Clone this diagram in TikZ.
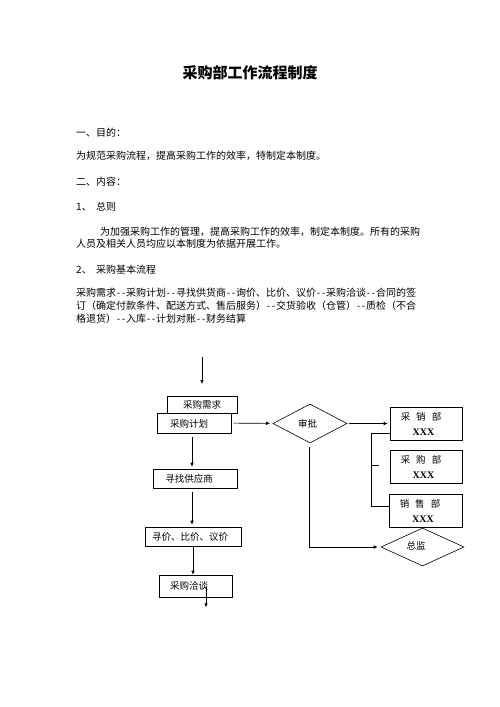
\documentclass[tikz,border=0pt]{standalone}
\usepackage{fontspec}
\setmainfont{Liberation Serif}
\newfontfamily\cjk{Noto Sans CJK SC}
\usetikzlibrary{calc,shapes.geometric,arrows.meta}
\newcommand\dd{\makebox[0.5em]{-}\makebox[0.5em]{-}}
\begin{document}
\begin{tikzpicture}[x=1pt,y=-1pt,
  body/.style={anchor=west,inner sep=0pt,font=\cjk\fontsize{10}{12}\selectfont},
  box/.style={draw,line width=0.6pt,fill=white,inner sep=0pt},
  dia/.style={draw,line width=0.6pt,diamond,aspect=1.9,inner sep=0pt},
  lbl/.style={inner sep=0pt,font=\cjk\fontsize{9.5}{11}\selectfont},
  xxx/.style={inner sep=0pt,font=\fontsize{10}{12}\selectfont\bfseries},
  ln/.style={line width=0.6pt},
  arr/.style={line width=0.6pt,-{Latex[length=4pt,width=3.6pt]}}]
\useasboundingbox (0,0) rectangle (500,707);
% text
\node[inner sep=0pt,font=\cjk\fontsize{15}{18}\selectfont\bfseries] (title) at (250,73) {采购部工作流程制度};
\node[body] (h1) at (76,133) {一、目的：};
\node[body] (p1) at (76,156) {为规范采购流程，提高采购工作的效率，特制定本制度。};
\node[body] (h2) at (76,182) {二、内容：};
\node[body] (n1) at (76,207) {1、};
\node[body] (s1) at (96,207) {总则};
\node[body] (p2a) at (100,232) {为加强采购工作的管理，提高采购工作的效率，制定本制度。所有的采购};
\node[body] (p2b) at (76,244) {人员及相关人员均应以本制度为依据开展工作。};
\node[body] (n2) at (76,270) {2、};
\node[body] (s2) at (96,270) {采购基本流程};
\node[body] (p3a) at (76,293) {采购需求\dd 采购计划\dd 寻找供货商\dd 询价、比价、议价\dd 采购洽谈\dd 合同的签};
\node[body] (p3b) at (76,306) {订（确定付款条件、配送方式、售后服务）\dd 交货验收（仓管）\dd 质检（不合};
\node[body] (p3c) at (76,319) {格退货）\dd 入库\dd 计划对账\dd 财务结算};
% flowchart boxes
\node[box,minimum width=70pt,minimum height=17pt] (need) at (202,404.5) {};
\node[box,minimum width=74pt,minimum height=20pt] (plan) at (194,423) {};
\node[box,minimum width=84pt,minimum height=19pt] (find) at (195,478.5) {};
\node[box,minimum width=96pt,minimum height=19pt] (price) at (193,536.5) {};
\node[box,minimum width=73pt,minimum height=22pt] (talk) at (195.5,586) {};
\node[dia,minimum width=74pt,minimum height=39pt] (approve) at (310,423.5) {};
\node[box,minimum width=72pt,minimum height=33pt] (xs) at (426,423.5) {};
\node[box,minimum width=72pt,minimum height=33pt] (cg) at (426,466.5) {};
\node[box,minimum width=73pt,minimum height=33pt] (sale) at (425.5,510.5) {};
\node[dia,minimum width=83pt,minimum height=38pt] (zj) at (422.5,547) {};
% labels
\node[lbl] (needT) at (202,405) {采购需求};
\node[lbl] (planT) at (189,424) {采购计划};
\node[lbl] (findT) at (189,479) {寻找供应商};
\node[lbl] (priceT) at (190,537) {寻价、比价、议价};
\node[lbl] (talkT) at (189,586) {采购洽谈};
\node[lbl] (approveT) at (307.5,424) {审批};
\node[lbl] (zjT) at (416,546) {总监};
\node[lbl] (xsT) at (421,417) {采\hspace{6pt}销\hspace{6pt}部};
\node[xxx] (xsX) at (423.5,432) {XXX};
\node[lbl] (cgT) at (421,460) {采\hspace{6pt}购\hspace{6pt}部};
\node[xxx] (cgX) at (423.5,475) {XXX};
\node[lbl] (saleT) at (420,504) {销\hspace{6pt}售\hspace{6pt}部};
\node[xxx] (saleX) at (423,519) {XXX};
% connectors
\coordinate (topS) at (202,357);
\coordinate (topE) at (202,384);
\draw[arr] (topS) -- (topE);
\draw[arr,shorten <=2pt,shorten >=3pt] (plan) -- (approve);
\draw[arr,shorten <=2pt,shorten >=2pt] (approve) -- (xs);
\draw[ln] ($(xs.west)+(0,9.5)$) -- ++(-18,0) |- ($(sale.west)+(0,-4.5)$);
\coordinate (tickA) at (372,465);
\coordinate (tickB) at (379,465);
\draw[ln] (tickA) -- (tickB);
\draw[arr,shorten >=3pt] ($(approve.south)+(-1,4)$) |- (zj.west);
\draw[arr] ($(plan.south)+(-2,4)$) -- ($(find.north)+(-3,-2)$);
\draw[arr] ($(find.south)+(-3,4)$) -- ($(price.north)+(-1,-2)$);
\draw[arr] ($(price.south)+(0,1)$) -- ($(talk.north)+(-2.5,0)$);
\draw[arr] ($(talk.center)+(10.5,1)$) -- ($(talk.south)+(10.5,10)$);
\end{tikzpicture}
\end{document}
